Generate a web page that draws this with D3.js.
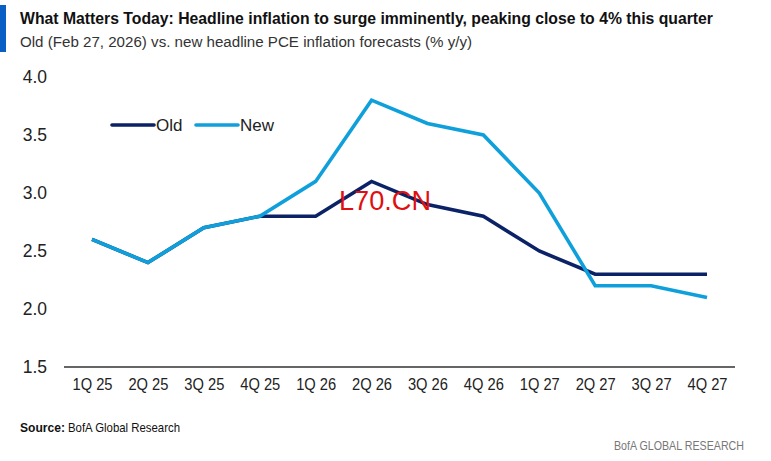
<!DOCTYPE html>
<html>
<head>
<meta charset="utf-8">
<script src="https://cdn.jsdelivr.net/npm/d3@7"></script>
<style>
  body { margin: 0; background: #fff; }
  text { font-family: "Liberation Sans Narrow", "Liberation Sans", sans-serif; }
</style>
</head>
<body>
<svg width="771" height="461"></svg>
<script>
const quarters = ["1Q 25", "2Q 25", "3Q 25", "4Q 25", "1Q 26", "2Q 26", "3Q 26", "4Q 26", "1Q 27", "2Q 27", "3Q 27", "4Q 27"]
const oldForecast = [2.6, 2.4, 2.7, 2.8, 2.8, 3.1, 2.9, 2.8, 2.5, 2.3, 2.3, 2.3]
const newForecast = [2.6, 2.4, 2.7, 2.8, 3.1, 3.8, 3.6, 3.5, 3.0, 2.2, 2.2, 2.1]
const yTicks = [1.5, 2.0, 2.5, 3.0, 3.5, 4.0]

const series = [
  { name: "Old", values: oldForecast, color: "#0b2266" },
  { name: "New", values: newForecast, color: "#0fa0dc" },
]

const svg = d3.select("svg")

// header
svg.append("rect").attr("x", 0).attr("y", 5).attr("width", 6).attr("height", 47).attr("fill", "#0a5fc4")
svg.append("text")
  .attr("x", 20).attr("y", 24)
  .attr("font-size", 16.5).attr("font-weight", "bold").attr("fill", "#111")
  .attr("textLength", 693).attr("lengthAdjust", "spacingAndGlyphs")
  .text("What Matters Today: Headline inflation to surge imminently, peaking close to 4% this quarter")
svg.append("text")
  .attr("x", 20).attr("y", 47)
  .attr("font-size", 15.5).attr("fill", "#333")
  .attr("textLength", 452).attr("lengthAdjust", "spacingAndGlyphs")
  .text("Old (Feb 27, 2026) vs. new headline PCE inflation forecasts (% y/y)")

const x = d3.scalePoint().domain(quarters).range([92, 707])
const y = d3.scaleLinear().domain([1.5, 4.0]).range([367, 77])

// y labels
const yAxis = d3.axisLeft(y).tickValues(yTicks).tickFormat(d3.format(".1f")).tickSize(0).tickPadding(0)
const gy = svg.append("g").attr("transform", "translate(47,0)").call(yAxis)
gy.select(".domain").remove()
gy.selectAll("text").attr("font-size", 17.5).attr("fill", "#222")
  .style("font-family", "'Liberation Sans Narrow', sans-serif")

// x axis
const xAxis = d3.axisBottom(x).tickSize(0).tickPadding(12)
const gx = svg.append("g").attr("transform", "translate(0,367)").call(xAxis)
gx.select(".domain").remove()
gx.selectAll("text").attr("font-size", 16).attr("fill", "#222")
  .attr("textLength", 40).attr("lengthAdjust", "spacingAndGlyphs")
  .style("font-family", "'Liberation Sans Narrow', sans-serif")
svg.append("line")
  .attr("x1", 64).attr("x2", 735).attr("y1", y(1.5)).attr("y2", y(1.5))
  .attr("stroke", "#666").attr("stroke-width", 2.2)

// lines
const line = d3.line().x((d, i) => x(quarters[i])).y(d => y(d))
svg.append("g").selectAll("path").data(series).join("path")
  .attr("d", d => line(d.values))
  .attr("fill", "none")
  .attr("stroke", d => d.color)
  .attr("stroke-width", 3.6)
  .attr("stroke-linejoin", "miter")

// legend
const legend = svg.append("g").attr("transform", "translate(112,125)")
const item = legend.selectAll("g").data(series).join("g")
  .attr("transform", (d, i) => `translate(${i * 84},0)`)
item.append("line").attr("x1", 0).attr("x2", 42).attr("y1", 0).attr("y2", 0)
  .attr("stroke", d => d.color).attr("stroke-width", 3.6).attr("stroke-linecap", "round")
item.append("text").attr("x", 44).attr("y", 6)
  .attr("font-size", 17).attr("fill", "#222").text(d => d.name)

// watermark
svg.append("text").attr("x", 339).attr("y", 210)
  .attr("font-size", 27).attr("fill", "#e01010")
  .attr("textLength", 92).attr("lengthAdjust", "spacingAndGlyphs")
  .style("font-family", "'Liberation Sans', Arial, sans-serif")
  .text("L70.CN")

// footer
svg.append("text").attr("x", 20).attr("y", 432).attr("font-size", 13).attr("fill", "#111")
  .attr("font-weight", "bold")
  .attr("textLength", 45).attr("lengthAdjust", "spacingAndGlyphs")
  .text("Source:")
svg.append("text").attr("x", 68).attr("y", 432).attr("font-size", 13).attr("fill", "#111")
  .attr("textLength", 112).attr("lengthAdjust", "spacingAndGlyphs")
  .text("BofA Global Research")
svg.append("text").attr("x", 744).attr("y", 450).attr("text-anchor", "end")
  .attr("font-size", 13).attr("fill", "#777")
  .attr("textLength", 130).attr("lengthAdjust", "spacingAndGlyphs")
  .text("BofA GLOBAL RESEARCH")
</script>
</body>
</html>
